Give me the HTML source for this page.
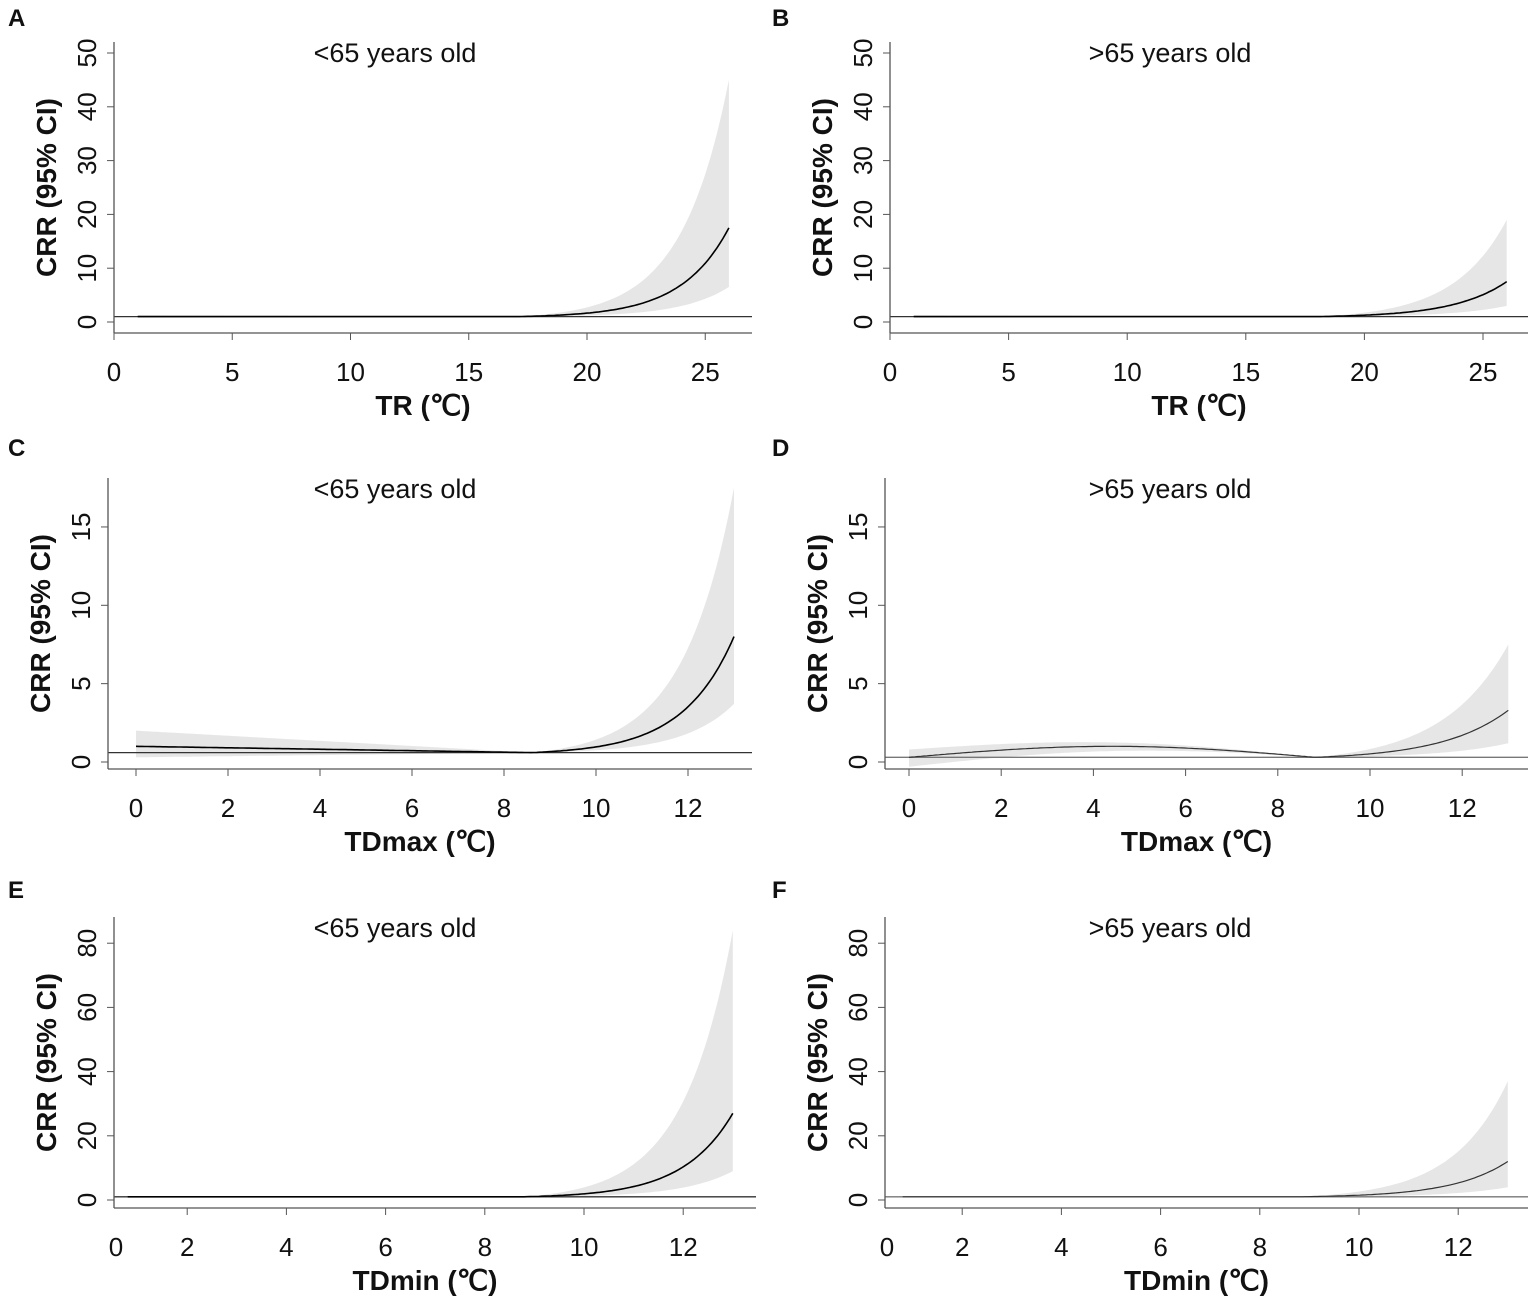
<!DOCTYPE html><html><head><style>body{margin:0;background:#fff}svg{display:block}text{font-family:"Liberation Sans",sans-serif;fill:#111}</style></head><body>
<svg id="s" width="1535" height="1298" xmlns="http://www.w3.org/2000/svg"></svg>
<script>
const s=document.getElementById('s');let h='';
const P=[
 {L:'A',ttl:'<65 years old',xl:'TR (℃)',ax:114,top:42,bot:333,right:752,x0px:114,xs:23.65,y0:322,ys:5.38,yt:[0,10,20,30,40,50],xt:[0,5,10,15,20,25],ref:1,xa:1,xb:26,k:0.5,c0:17,m:17.5,u:45,l:6.5,lbl:[16,26],ttx:395},
 {L:'B',ttl:'>65 years old',xl:'TR (℃)',ax:890,top:42,bot:333,right:1528,x0px:890,xs:23.72,y0:322,ys:5.38,yt:[0,10,20,30,40,50],xt:[0,5,10,15,20,25],ref:1,xa:1,xb:26,k:0.45,c0:18,m:7.5,u:19,l:3,lbl:[780,26],ttx:1170},
 {L:'C',ttl:'<65 years old',xl:'TDmax (℃)',ax:108,top:478,bot:769,right:752,x0px:136,xs:46,y0:762,ys:15.67,yt:[0,5,10,15],xt:[0,2,4,6,8,10,12],ref:0.6,xa:0,xb:13,k:0.9,c0:8.6,m:8,u:17.5,l:3.7,lbl:[16,456],ttx:395,flat:1,fu:2,fl:0.3},
 {L:'D',ttl:'>65 years old',xl:'TDmax (℃)',ax:885,top:478,bot:769,right:1528,x0px:909,xs:46.1,y0:762,ys:15.67,yt:[0,5,10,15],xt:[0,2,4,6,8,10,12],ref:0.3,xa:0,xb:13,k:0.7,c0:8.8,m:3.3,u:7.5,l:1.2,lbl:[780,456],ttx:1170,flat:0.6,fu:1.1,fl:0,bump:1,thin:1},
 {L:'E',ttl:'<65 years old',xl:'TDmin (℃)',ax:114,top:917,bot:1208,right:756,x0px:88,xs:49.6,y0:1200,ys:3.21,yt:[0,20,40,60,80],xt:[2,4,6,8,10,12],ref:1,xa:0.8,xb:13,k:1.0,c0:8.8,m:27,u:84,l:9,lbl:[16,898],ttx:395},
 {L:'F',ttl:'>65 years old',xl:'TDmin (℃)',ax:885,top:917,bot:1208,right:1528,x0px:863,xs:49.6,y0:1200,ys:3.21,yt:[0,20,40,60,80],xt:[2,4,6,8,10,12],ref:1,xa:0.8,xb:13,k:0.9,c0:8.8,m:12,u:37,l:4,lbl:[780,898],ttx:1170,thin:1}
];
for(const p of P){
 const X=x=>p.x0px+x*p.xs, Y=v=>p.y0-v*p.ys;
 const base=p.flat!==undefined?p.flat:p.ref;
 function g(x,end,b0){let v=b0;
  if(p.bump&&x<p.c0) v=b0+0.7*Math.sin(Math.PI*x/p.c0)-0.3*(1-x/p.c0);
  if(x>p.c0){const t=(Math.exp(p.k*(x-p.c0))-1)/(Math.exp(p.k*(p.xb-p.c0))-1);v+= (end-b0)*t;}
  return v;}
 const N=200,xs=[];for(let i=0;i<=N;i++)xs.push(p.xa+(p.xb-p.xa)*i/N);
 const bb=x=>p.ref+(p.flat!==undefined?(base-p.ref)*Math.max(0,1-x/p.c0):0);
 const fu=x=>{let w=p.fu!==undefined?(p.fu-base)*Math.max(0,1-x/p.c0):0.25*Math.max(0,1-x/p.c0);return g(x,p.u,bb(x))+w;};
 const fl=x=>{let w=p.fl!==undefined?(base-p.fl)*Math.max(0,1-x/p.c0):0.15*Math.max(0,1-x/p.c0);return g(x,p.l,bb(x))-w;};
 const fm=x=>g(x,p.m,bb(x));
 let poly=xs.map(x=>X(x).toFixed(1)+','+Y(fu(x)).toFixed(1)).join(' ')+' '+xs.slice().reverse().map(x=>X(x).toFixed(1)+','+Y(fl(x)).toFixed(1)).join(' ');
 h+=`<polygon points="${poly}" fill="#e6e6e6"/>`;
 h+=`<line x1="${p.ax}" x2="${p.right}" y1="${Y(p.ref)}" y2="${Y(p.ref)}" stroke="${p.thin?'#777':'#333'}" stroke-width="1.3"/>`;
 h+=`<polyline points="${xs.map(x=>X(x).toFixed(1)+','+Y(fm(x)).toFixed(1)).join(' ')}" fill="none" stroke="${p.thin?'#333':'#000'}" stroke-width="${p.thin?1.2:1.6}"/>`;
 h+=`<line x1="${p.ax}" x2="${p.ax}" y1="${p.top}" y2="${p.bot}" stroke="#555" stroke-width="1.3"/>`;
 h+=`<line x1="${p.ax}" x2="${p.right}" y1="${p.bot}" y2="${p.bot}" stroke="#555" stroke-width="1.3"/>`;
 for(const t of p.yt){const y=Y(t);h+=`<line x1="${p.ax-7}" x2="${p.ax}" y1="${y}" y2="${y}" stroke="#555"/><text transform="translate(${p.ax-18},${y}) rotate(-90)" text-anchor="middle" font-size="26">${t}</text>`;}
 for(const t of p.xt){const x=X(t);h+=`<line x1="${x}" x2="${x}" y1="${p.bot}" y2="${p.bot+7}" stroke="#555"/><text x="${x}" y="${p.bot+48}" text-anchor="middle" font-size="26">${t}</text>`;}
 if(p.L=='E'||p.L=='F')h+=`<text x="${p.ax+2}" y="${p.bot+48}" text-anchor="middle" font-size="26">0</text>`;
 h+=`<text x="${(p.ax+p.right)/2-10}" y="${p.bot+82}" text-anchor="middle" font-size="28" font-weight="bold">${p.xl}</text>`;
 h+=`<text transform="translate(${p.ax-58},${(p.top+p.bot)/2}) rotate(-90)" text-anchor="middle" font-size="28" font-weight="bold">CRR (95% CI)</text>`;
 h+=`<text x="${p.ttx}" y="${p.top+20}" text-anchor="middle" font-size="27">${p.ttl.replace('<','&lt;').replace('>','&gt;')}</text>`;
 h+=`<text x="${p.lbl[0]-8}" y="${p.lbl[1]}" font-size="24" font-weight="bold">${p.L}</text>`;
}
s.innerHTML=h;
</script></body></html>
